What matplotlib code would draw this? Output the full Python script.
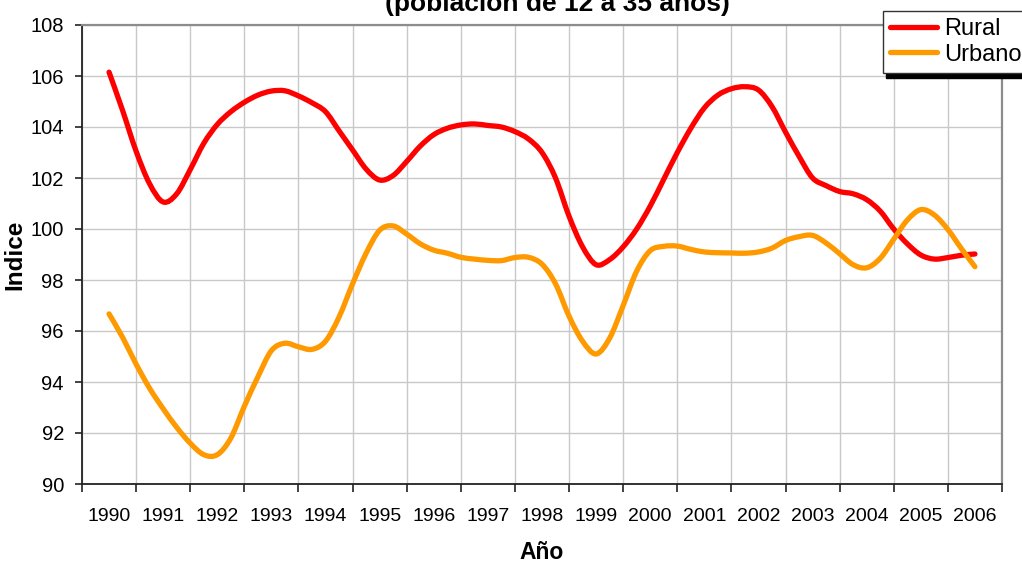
import matplotlib
matplotlib.use("Agg")
import matplotlib.pyplot as plt
from matplotlib.path import Path
from matplotlib.patches import PathPatch
import numpy as np

plt.rcParams["font.family"] = ["Liberation Sans", "DejaVu Sans"]

# %%
years = [str(y) for y in range(1990, 2007)]
title = "(población de 12 a 35 años)"

# quarterly readings, 1990 Q1 .. 2006 Q1
rural = [106.15, 104.65, 103.05, 101.77, 101.06, 101.38, 102.33, 103.36, 104.10, 104.60,
         104.97, 105.25, 105.41, 105.42, 105.22, 104.95, 104.60, 103.85, 103.10, 102.35,
         101.92, 102.10, 102.65, 103.25, 103.70, 103.95, 104.08, 104.12, 104.06, 104.00,
         103.82, 103.53, 103.00, 102.00, 100.50, 99.30, 98.60, 98.80, 99.30, 100.00,
         100.90, 101.95, 103.00, 103.95, 104.75, 105.25, 105.50, 105.58, 105.45, 104.80,
         103.80, 102.85, 102.00, 101.70, 101.47, 101.38, 101.15, 100.70, 100.00, 99.42,
         98.98, 98.82, 98.88, 98.97, 99.02]
urbano = [96.67, 95.75, 94.70, 93.75, 92.95, 92.22, 91.60, 91.15, 91.15, 91.80,
          93.05, 94.20, 95.23, 95.52, 95.38, 95.28, 95.60, 96.55, 97.85, 99.05,
          99.95, 100.12, 99.80, 99.42, 99.17, 99.05, 98.89, 98.82, 98.77, 98.76,
          98.88, 98.89, 98.62, 97.85, 96.58, 95.60, 95.10, 95.72, 97.00, 98.35,
          99.15, 99.32, 99.33, 99.20, 99.10, 99.07, 99.06, 99.05, 99.10, 99.25,
          99.55, 99.70, 99.75, 99.45, 99.03, 98.60, 98.48, 98.85, 99.60, 100.35,
          100.76, 100.55, 99.98, 99.23, 98.52]
yticks = list(range(90, 109, 2))


# %%
def smooth_path(x, y):
    # Excel-like smoothed line: bezier segments through every point
    p = np.column_stack([x, y])
    ext = np.vstack([p[0], p, p[-1]])
    verts = [p[0]]
    codes = [Path.MOVETO]
    for i in range(len(p) - 1):
        p0, p1, p2, p3 = ext[i], ext[i + 1], ext[i + 2], ext[i + 3]
        verts += [p1 + (p2 - p0) / 6, p2 - (p3 - p1) / 6, p2]
        codes += [Path.CURVE4] * 3
    return Path(verts, codes)


# %%
W, H = 1022, 563
fig = plt.figure(figsize=(W / 100, H / 100), dpi=100)
ax = fig.add_axes([82 / W, 1 - 484 / H, (1002 - 82) / W, (484 - 25) / H])

t = np.arange(len(rural)) / 4.0
for vals, col, name in [(rural, "#FF0000", "Rural"), (urbano, "#FF9900", "Urbano")]:
    ax.add_patch(PathPatch(smooth_path(t, vals), fill=False, edgecolor=col, lw=3.8,
                           joinstyle="round", capstyle="round", zorder=3))
    ax.plot([], [], color=col, lw=3.8, label=name, solid_capstyle="round")

n = len(years)
ax.set_xlim(-0.5, n - 0.5)
ax.set_ylim(90, 108)
ax.set_yticks(yticks)
ax.set_yticklabels([str(v) for v in yticks], fontsize=14.5)
ax.set_xticks(np.arange(n))
ax.set_xticklabels(years, fontsize=14)
ax.set_xticks(np.arange(n + 1) - 0.5, minor=True)
ax.tick_params(axis="x", which="major", length=0, pad=17)
ax.tick_params(axis="x", which="minor", length=6, width=1.2, color="#222222")
ax.tick_params(axis="y", length=5, width=1.2, color="#222222", pad=8)

ax.grid(True, axis="y", color="#c8c8c8", lw=1.0)
ax.grid(True, axis="x", which="minor", color="#c8c8c8", lw=1.0)
ax.set_axisbelow(True)

for side in ["left", "bottom"]:
    ax.spines[side].set_color("#222222")
    ax.spines[side].set_linewidth(1.3)
for side in ["top", "right"]:
    ax.spines[side].set_color("#8c8c8c")
    ax.spines[side].set_linewidth(1.6)

ax.set_xlabel("Año", fontsize=16.5, fontweight="bold", labelpad=12)
ax.set_ylabel("Indice", fontsize=17.5, fontweight="bold", labelpad=3)

fig.text(557 / W, 1 - 11 / H, title, ha="center", va="baseline",
         fontsize=19, fontweight="bold")

leg = ax.legend(loc="upper left", bbox_to_anchor=(883 / W, 1 - 11 / H),
                bbox_transform=fig.transFigure, fontsize=17, frameon=True,
                fancybox=False, handlelength=2.0, handletextpad=0.3,
                borderpad=0.3, borderaxespad=0, labelspacing=0.15,
                shadow={"ox": 2.5, "oy": -4, "color": "black", "alpha": 1})
leg.get_frame().set_edgecolor("#333333")
leg.get_frame().set_linewidth(1.0)
for line in leg.get_lines():
    line.set_linewidth(3.8)

fig.savefig("out.png", dpi=100)
